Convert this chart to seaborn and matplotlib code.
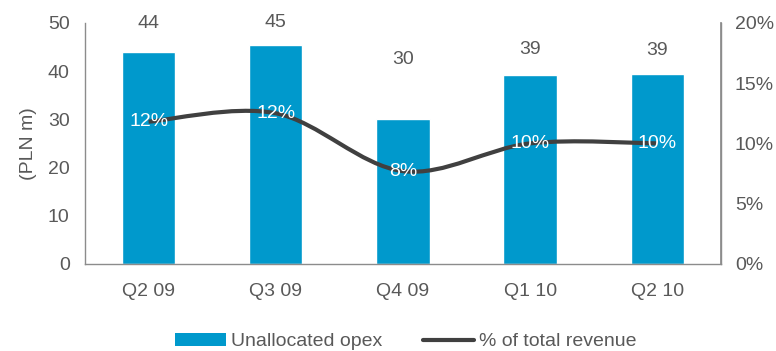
import matplotlib
matplotlib.use("Agg")
import matplotlib.pyplot as plt
from matplotlib.path import Path
from matplotlib.patches import PathPatch, Patch
from matplotlib.lines import Line2D
import seaborn as sns
import pandas as pd
import numpy as np

quarters = ["Q2 09", "Q3 09", "Q4 09", "Q1 10", "Q2 10"]
opex = [44.0, 45.4, 30.1, 39.2, 39.4]          # PLN m
pct_revenue = [11.8, 12.5, 7.7, 10.0, 10.0]    # % of total revenue
pct_labels = ["12%", "12%", "8%", "10%", "10%"]
left_ticks = [0, 10, 20, 30, 40, 50]
right_ticks = [0, 5, 10, 15, 20]

BAR = "#0099CC"
LINE = "#404040"
TXT = "#595959"
SPINE = "#8C8C8C"
FS = 14

sns.set_theme(style="white")
plt.rcParams["font.family"] = ["Liberation Sans", "DejaVu Sans"]

fig = plt.figure(figsize=(7.76, 3.51), dpi=100)
ax = fig.add_axes([0.1095, 0.248, 0.8195, 0.687])

df = pd.DataFrame({"quarter": quarters, "opex": opex})
sns.barplot(data=df, x="quarter", y="opex", color=BAR, width=0.42,
            saturation=1, ax=ax)
ax.set_xlim(-0.5, 4.5)
ax.set_ylim(0, 50)
ax.set_yticks(left_ticks)
ax.set_xlabel("")
ax.set_ylabel("(PLN m)", fontsize=FS, color=TXT, labelpad=8)
ax.tick_params(axis="both", length=0, labelsize=FS, colors=TXT)
ax.tick_params(axis="x", pad=14)
ax.tick_params(axis="y", pad=11)
ax.spines["top"].set_visible(False)
for side in ["left", "bottom", "right"]:
    ax.spines[side].set_color(SPINE)
    ax.spines[side].set_linewidth(1.0)

# value labels above bars (vertical offsets in points)
label_offsets = [20, 16, 43, 18, 17]
for i, (v, off) in enumerate(zip(opex, label_offsets)):
    ax.annotate(f"{v:.0f}", (i, v), xytext=(0, off), textcoords="offset points",
                ha="center", va="center", fontsize=FS, color=TXT)

# secondary axis: share of total revenue, smoothed line
ax2 = ax.twinx()
ax2.set_ylim(0, 20)
ax2.set_yticks(right_ticks)
ax2.set_yticklabels([f"{t}%" for t in right_ticks])
ax2.tick_params(axis="y", length=0, labelsize=FS, colors=TXT, pad=10)
for side in ["top", "left", "bottom"]:
    ax2.spines[side].set_visible(False)
ax2.spines["right"].set_color(SPINE)
ax2.grid(False)
ax.grid(False)

xs = np.arange(len(pct_revenue), dtype=float)
ys = np.asarray(pct_revenue, dtype=float)
pts = np.column_stack([xs, ys])
verts = [tuple(pts[0])]
codes = [Path.MOVETO]
n = len(pts)
for i in range(n - 1):
    p0 = pts[i - 1] if i > 0 else pts[i]
    p1 = pts[i]
    p2 = pts[i + 1]
    p3 = pts[i + 2] if i + 2 < n else pts[i + 1]
    c1 = p1 + (p2 - p0) / 6.0
    c2 = p2 - (p3 - p1) / 6.0
    verts += [tuple(c1), tuple(c2), tuple(p2)]
    codes += [Path.CURVE4] * 3
ax2.add_patch(PathPatch(Path(verts, codes), facecolor="none", edgecolor=LINE,
                        linewidth=3.0, capstyle="butt", joinstyle="round"))

for x, y, lab in zip(xs, ys, pct_labels):
    ax2.text(x, y, lab, ha="center", va="center", fontsize=FS, color="white")

handles = [Patch(facecolor=BAR, edgecolor="none"),
           Line2D([0], [0], color=LINE, linewidth=3.0)]
fig.legend(handles, ["Unallocated opex", "% of total revenue"],
           loc="center", bbox_to_anchor=(0.523, 0.026), ncol=2, frameon=False,
           fontsize=FS, labelcolor=TXT, handlelength=2.6, handleheight=0.62,
           columnspacing=2.1, handletextpad=0.26, borderpad=0)

fig.savefig("out.png", dpi=100)
